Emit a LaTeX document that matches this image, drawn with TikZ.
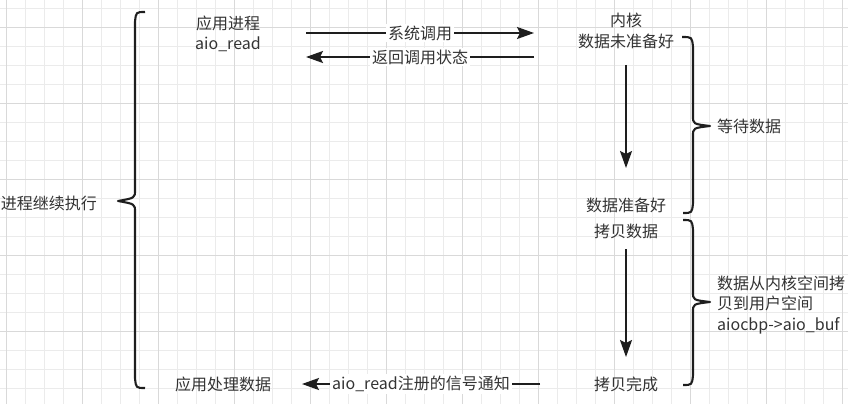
\documentclass[tikz,border=0pt]{standalone}
\usepackage{fontspec}
\setmainfont{Noto Sans CJK SC}
\usepackage{tikz}
\usetikzlibrary{positioning,arrows.meta}
\definecolor{txt}{HTML}{333333}
\definecolor{ink}{HTML}{1e1e1e}
\tikzset{%
  minor grid/.style={draw=black!8, line width=0.8pt},
  major grid/.style={draw=black!15, line width=0.9pt},
  stage/.style={
    text=txt,
    font=\fontsize{16}{20.5}\selectfont,
    align=center,
    inner sep=1pt
  },
  tag/.style={
    stage,
    fill=white,
    inner sep=2pt
  },
  flow/.style={
    ink,
    line width=2.1pt,
    -{Stealth[length=17pt,width=12pt,inset=3pt]}
  },
  bracket/.style={ink, line width=2.1pt, line join=round},
}

\begin{document}
\begin{tikzpicture}[x=1pt, y=-1pt]
\useasboundingbox (0,0) rectangle (848,404);
% grid
\foreach \k in {0,...,44}
    \draw[minor grid] ({6.7+19*\k},0) -- ++(0,404);
\foreach \k in {0,...,20}
    \draw[minor grid] (0,{8.3+19*\k}) -- ++(848,0);
\foreach \k in {0,...,11}
    \draw[major grid] ({6.7+76*\k},0) -- ++(0,404);
\foreach \k in {0,...,4}
    \draw[major grid] (0,{27.3+76*\k}) -- ++(848,0);

% nodes
\node[stage] (app)    at (228,34)  {应用进程\\aio\_read};
\node[stage] (kern)   at (626,31)  {内核\\数据未准备好};
\node[stage] (ready)  at (626,205) {数据准备好};
\node[stage] (copy)   at (626,231) {拷贝数据};
\node[stage] (done)   at (626,384) {拷贝完成};
\node[stage] (handle) at (223,384) {应用处理数据};
\node[stage] (cont)   at (49,203)  {进程继续执行};
\node[stage, anchor=west] (waitlbl) at (716,126) {等待数据};
\node[stage, anchor=west, align=left] (copylbl) at (716,305)
    {数据从内核空间拷\\贝到用户空间\\aiocbp->aio\_buf};

% arrow ends
\coordinate (callL) at (306,33);
\coordinate (callR) at (534,33);
\coordinate (backR) at (534,57);
\coordinate (backL) at (306,57);
\coordinate (waitT) at (626,65);
\coordinate (waitB) at (626,168);
\coordinate (copyT) at (626,249);
\coordinate (copyB) at (626,357);
\coordinate (sigR)  at (540,384);
\coordinate (sigL)  at (302,384);

\draw[flow] (callL) -- node[tag] (calltag) {系统调用} (callR);
\draw[flow] (backR) -- node[tag] (backtag) {返回调用状态} (backL);
\draw[flow] (waitT) -- (waitB);
\draw[flow] (copyT) -- (copyB);
\draw[flow] (sigR) -- node[tag] (sigtag) {aio\_read注册的信号通知} (sigL);

% braces
\draw[bracket] (145,12) .. controls (136,12) .. (135,22) -- (135,190)
    .. controls (135,198) .. (118,201) .. controls (135,204) .. (135,212)
    -- (135,378) .. controls (136,388) .. (145,388);
\draw[bracket] (682,37) .. controls (692,37) .. (693,47) -- (693,116)
    .. controls (693,124) .. (710,126) .. controls (693,128) .. (693,136)
    -- (693,203) .. controls (692,213) .. (683,213);
\draw[bracket] (683,220) .. controls (692,220) .. (693,230) -- (693,292)
    .. controls (693,300) .. (710,302) .. controls (693,304) .. (693,312)
    -- (693,375) .. controls (692,385) .. (683,385);
\end{tikzpicture}
\end{document}
